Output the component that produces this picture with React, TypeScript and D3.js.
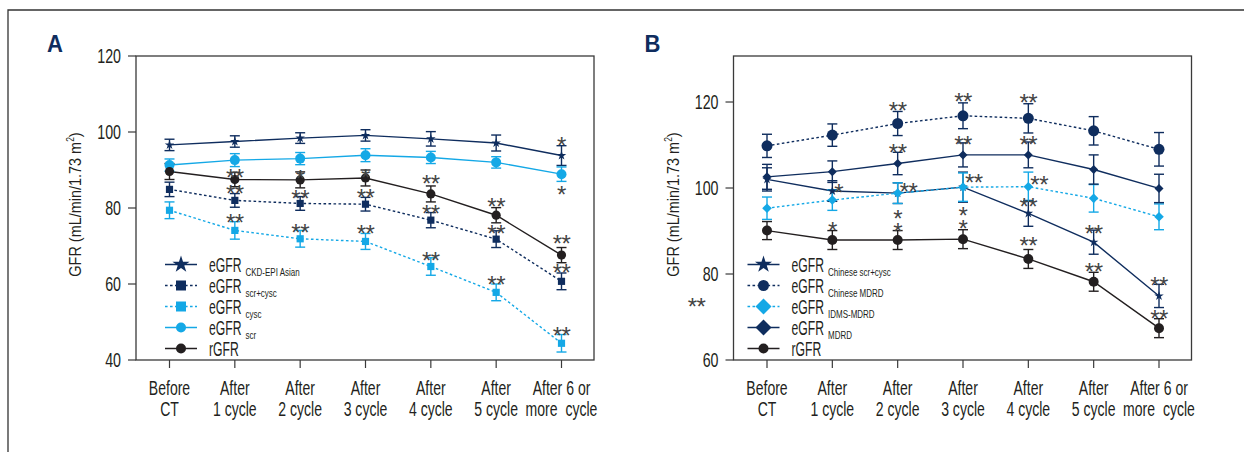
import * as d3 from 'd3';

// x categories (two lines each)
const categories = [
  ['Before', 'CT'],
  ['After', '1 cycle'],
  ['After', '2 cycle'],
  ['After', '3 cycle'],
  ['After', '4 cycle'],
  ['After', '5 cycle'],
  ['After 6 or', 'more  cycle'],
];

// Panel A values
const aCkdEpi = [96.6, 97.5, 98.4, 99.1, 98.2, 97.1, 93.8];
const aCkdEpiErr = [1.5, 1.5, 1.4, 1.5, 1.9, 2.1, 2.6];
const aScrCysc = [84.9, 82.0, 81.2, 81.0, 76.8, 71.8, 60.7];
const aScrCyscErr = [1.9, 1.8, 1.8, 1.8, 2.0, 2.2, 2.2];
const aCysc = [79.4, 74.1, 71.9, 71.2, 64.6, 57.8, 44.4];
const aCyscErr = [2.2, 2.3, 2.2, 2.1, 2.3, 2.2, 2.3];
const aScr = [91.3, 92.6, 93.0, 93.9, 93.3, 92.0, 88.9];
const aScrErr = [1.6, 1.7, 1.6, 1.7, 1.6, 1.5, 1.9];
const aRgfr = [89.6, 87.5, 87.4, 87.9, 83.7, 78.1, 67.6];
const aRgfrErr = [2.1, 1.9, 2.1, 2.1, 2.1, 2.0, 2.0];
const aTicks = [40, 60, 80, 100, 120];
// significance marks: [category, level, text]
const aMarks: [number, number, string][] = [
  [1, 89.6, '**'], [1, 85.2, '**'], [1, 77.7, '**'],
  [2, 89.1, '*'], [2, 83.9, '**'], [2, 75.1, '**'],
  [3, 89.6, '*'], [3, 84.3, '**'], [3, 74.7, '**'],
  [4, 87.8, '**'], [4, 80.1, '**'], [4, 67.6, '**'],
  [5, 81.9, '**'], [5, 74.8, '**'], [5, 61.2, '**'],
  [6, 97.9, '*'], [6, 85.0, '*'], [6, 72.0, '**'], [6, 64.6, '**'], [6, 47.9, '**'],
];

// Panel B values
const bChnScrCysc = [102.0, 99.3, 98.8, 100.2, 94.1, 87.4, 74.9];
const bChnScrCyscErr = [2.7, 2.4, 2.4, 3.5, 3.0, 2.8, 2.7];
const bChnMdrd = [109.8, 112.3, 115.0, 116.8, 116.2, 113.3, 109.0];
const bChnMdrdErr = [2.7, 2.6, 2.8, 3.0, 3.4, 3.3, 3.9];
const bIdms = [95.3, 97.2, 98.8, 100.2, 100.3, 97.6, 93.3];
const bIdmsErr = [2.6, 2.4, 2.4, 3.3, 3.4, 3.2, 3.0];
const bMdrd = [102.6, 103.8, 105.7, 107.7, 107.7, 104.3, 99.9];
const bMdrdErr = [2.9, 2.5, 2.6, 2.8, 3.0, 3.4, 3.3];
const bRgfr = [90.1, 87.9, 87.9, 88.1, 83.5, 78.2, 67.4];
const bRgfrErr = [2.1, 2.2, 2.2, 2.2, 2.2, 2.2, 2.2];
const bTicks = [60, 80, 100, 120];
const bMarks: [number, number, string][] = [
  [2, 119.3, '**'], [3, 121.4, '**'], [4, 121.2, '**'],
  [2, 109.6, '**'], [3, 111.3, '**'], [4, 111.3, '**'],
  [4, 97.0, '**'], [5, 90.8, '**'], [6, 78.6, '**'],
  [1, 91.4, '*'], [2, 94.3, '*'], [2, 91.2, '*'], [3, 94.9, '*'], [3, 91.9, '*'],
  [4, 87.9, '**'], [5, 81.9, '**'], [6, 70.9, '**'],
];
// marks printed to the right of the point
const bMarksRight: [number, number, string][] = [
  [1, 100.2, '*'], [2, 100.5, '**'], [3, 102.5, '**'], [4, 102.0, '**'],
];
// stray mark left of the axis in the original figure
const bStray: [number, string] = [73.7, '**'];

const NAVY = '#0f2d5e';
const LIGHT = '#14a8e6';
const BLACK = '#231f20';
const AXIS = '#3a3a3a';
const MARK = '#444444';
const FONT = "'Liberation Sans', Arial, sans-serif";

type Shape = 'star' | 'square' | 'circle' | 'diamond';
interface Series {
  values: number[];
  errors: number[];
  color: string;
  dashed: boolean;
  shape: Shape;
  r: number; // marker radius in plot
  lr: number; // marker radius in legend
  label: string;
  sub?: string;
}

const aSeries: Series[] = [
  { values: aCkdEpi, errors: aCkdEpiErr, color: NAVY, dashed: false, shape: 'star', r: 5, lr: 9, label: 'eGFR', sub: 'CKD-EPI Asian' },
  { values: aScrCysc, errors: aScrCyscErr, color: NAVY, dashed: true, shape: 'square', r: 3.6, lr: 5, label: 'eGFR', sub: 'scr+cysc' },
  { values: aCysc, errors: aCyscErr, color: LIGHT, dashed: true, shape: 'square', r: 3.6, lr: 5, label: 'eGFR', sub: 'cysc' },
  { values: aScr, errors: aScrErr, color: LIGHT, dashed: false, shape: 'circle', r: 5, lr: 5, label: 'eGFR', sub: 'scr' },
  { values: aRgfr, errors: aRgfrErr, color: BLACK, dashed: false, shape: 'circle', r: 4.6, lr: 5, label: 'rGFR' },
];

const bSeries: Series[] = [
  { values: bChnScrCysc, errors: bChnScrCyscErr, color: NAVY, dashed: false, shape: 'star', r: 5, lr: 9, label: 'eGFR', sub: 'Chinese scr+cysc' },
  { values: bChnMdrd, errors: bChnMdrdErr, color: NAVY, dashed: true, shape: 'circle', r: 5.5, lr: 5.5, label: 'eGFR', sub: 'Chinese MDRD' },
  { values: bIdms, errors: bIdmsErr, color: LIGHT, dashed: true, shape: 'diamond', r: 4.8, lr: 8, label: 'eGFR', sub: 'IDMS-MDRD' },
  { values: bMdrd, errors: bMdrdErr, color: NAVY, dashed: false, shape: 'diamond', r: 4.5, lr: 8, label: 'eGFR', sub: 'MDRD' },
  { values: bRgfr, errors: bRgfrErr, color: BLACK, dashed: false, shape: 'circle', r: 5, lr: 5, label: 'rGFR' },
];

const symbolPath = (shape: Shape, r: number) => {
  if (shape === 'star') return d3.symbol(d3.symbolStar, (r * r) / 0.8908130915292852)() || '';
  if (shape === 'square') return d3.symbol(d3.symbolSquare, 4 * r * r)() || '';
  if (shape === 'diamond') return d3.symbol(d3.symbolSquare, 2 * r * r)() || '';
  return d3.symbol(d3.symbolCircle, Math.PI * r * r)() || '';
};

const Marker = ({ shape, r, x, y, color }: { shape: Shape; r: number; x: number; y: number; color: string }) => (
  <path
    d={symbolPath(shape, r)}
    transform={`translate(${x},${y})${shape === 'diamond' ? ' rotate(45)' : ''}`}
    fill={color}
  />
);

// condensed text: horizontal squeeze to mimic the narrow face of the original
const NT = ({ x, y, size, sx, anchor = 'start', fill = BLACK, weight = 'normal', children }: any) => (
  <text
    transform={`translate(${x},${y}) scale(${sx},1)`}
    fontSize={size}
    fontFamily={FONT}
    fontWeight={weight}
    textAnchor={anchor}
    fill={fill}
    style={{ whiteSpace: 'pre' }}
  >
    {children}
  </text>
);

const Stars = ({ x, y, text, anchor = 'middle' }: { x: number; y: number; text: string; anchor?: string }) => (
  <text
    x={x}
    y={y + 14}
    fontSize={24}
    fontFamily="'Liberation Sans', Arial, sans-serif"
    fill={MARK}
    textAnchor={anchor}
    letterSpacing={-0.5}
  >
    {text}
  </text>
);

interface PanelProps {
  left: number;
  letter: string;
  series: Series[];
  yDomain: [number, number];
  ticks: number[];
  marks: [number, number, string][];
  marksRight?: [number, number, string][];
  stray?: [number, string];
  legendDx: number;
}

const TOP = 56;
const BOTTOM = 360;
const WIDTH = 458;

const Panel = ({ left, letter, series, yDomain, ticks, marks, marksRight = [], stray, legendDx }: PanelProps) => {
  const right = left + WIDTH;
  const x = d3.scalePoint<number>().domain(d3.range(categories.length)).range([left + 33.5, right - 32.5]);
  const y = d3.scaleLinear().domain(yDomain).range([BOTTOM, TOP]);
  const rows = [264.5, 285.5, 306.5, 327.5, 348.5];
  const lx = left + legendDx;

  return (
    <g>
      <NT x={left - 89} y={52} size={24} sx={0.92} weight="bold" fill={NAVY}>{letter}</NT>

      {/* frame */}
      <rect x={left} y={TOP} width={WIDTH} height={BOTTOM - TOP} fill="none" stroke={AXIS} strokeWidth={1.3} />

      {/* y axis */}
      {ticks.map((t) => (
        <g key={t}>
          <line x1={left - 8} x2={left} y1={y(t)} y2={y(t)} stroke={AXIS} strokeWidth={1.2} />
          <NT x={left - 15} y={y(t) + 7} size={19.5} sx={0.73} anchor="end">{t}</NT>
        </g>
      ))}
      <text
        transform={`translate(${left - 55},204.5) rotate(-90) scale(0.85,1)`}
        fontSize={17}
        fontFamily={FONT}
        textAnchor="middle"
        fill={BLACK}
      >
        GFR (mL/min/1.73 m<tspan fontSize={10} dy={-7}>2</tspan><tspan dy={7}>)</tspan>
      </text>

      {/* x axis */}
      {categories.map((c, i) => (
        <g key={i}>
          <line x1={x(i)} x2={x(i)} y1={BOTTOM} y2={BOTTOM + 8} stroke={AXIS} strokeWidth={1.2} />
          <NT x={x(i)} y={395} size={19.5} sx={0.72} anchor="middle">{c[0]}</NT>
          <NT x={x(i)} y={416} size={19.5} sx={0.72} anchor="middle">{c[1]}</NT>
        </g>
      ))}

      {/* lines */}
      {series.map((s, si) => {
        const line = d3.line<number>().x((_, i) => x(i) as number).y((v) => y(v));
        return (
          <path
            key={si}
            d={line(s.values) || ''}
            fill="none"
            stroke={s.color}
            strokeWidth={1.4}
            strokeDasharray={s.dashed ? '2.6,2.4' : undefined}
          />
        );
      })}

      {/* error bars */}
      {series.map((s, si) =>
        s.values.map((v, i) => {
          const cx = x(i) as number;
          const y1 = y(v + s.errors[i]);
          const y2 = y(v - s.errors[i]);
          return (
            <g key={`${si}-${i}`} stroke={s.color} strokeWidth={1.4}>
              <line x1={cx} x2={cx} y1={y1} y2={y2} />
              <line x1={cx - 5} x2={cx + 5} y1={y1} y2={y1} />
              <line x1={cx - 5} x2={cx + 5} y1={y2} y2={y2} />
            </g>
          );
        })
      )}

      {/* markers */}
      {series.map((s, si) =>
        s.values.map((v, i) => (
          <Marker key={`${si}-${i}`} shape={s.shape} r={s.r} x={x(i) as number} y={y(v)} color={s.color} />
        ))
      )}

      {/* significance */}
      {marks.map(([c, lv, t], i) => (
        <Stars key={i} x={x(c) as number} y={y(lv)} text={t} />
      ))}
      {marksRight.map(([c, lv, t], i) => (
        <Stars key={i} x={(x(c) as number) + 2} y={y(lv)} text={t} anchor="start" />
      ))}
      {stray && <Stars x={left - 37} y={y(stray[0])} text={stray[1]} />}

      {/* legend */}
      {series.map((s, i) => (
        <g key={i}>
          <line
            x1={lx}
            x2={lx + 32}
            y1={rows[i]}
            y2={rows[i]}
            stroke={s.color}
            strokeWidth={1.5}
            strokeDasharray={s.dashed ? '2.6,2.4' : undefined}
          />
          <Marker shape={s.shape} r={s.lr} x={lx + 16} y={rows[i]} color={s.color} />
          <NT x={lx + 44} y={rows[i] + 7.5} size={21} sx={0.58}>{s.label}</NT>
          {s.sub && <NT x={lx + 80.5} y={rows[i] + 11.5} size={10} sx={0.8}>{s.sub}</NT>}
        </g>
      ))}
    </g>
  );
};

export default function App() {
  return (
    <svg width={1244} height={452} style={{ position: 'absolute', left: 0, top: 0, background: '#fff' }}>
      <rect width={1244} height={452} fill="#fff" />
      <polyline points="8,452 8,10 1244,10" fill="none" stroke="#333" strokeWidth={1.3} />
      <Panel
        left={136}
        letter="A"
        series={aSeries}
        yDomain={[40, 120]}
        ticks={aTicks}
        marks={aMarks}
        legendDx={29}
      />
      <Panel
        left={733.5}
        letter="B"
        series={bSeries}
        yDomain={[60, 130.7]}
        ticks={bTicks}
        marks={bMarks}
        marksRight={bMarksRight}
        stray={bStray}
        legendDx={14}
      />
    </svg>
  );
}
